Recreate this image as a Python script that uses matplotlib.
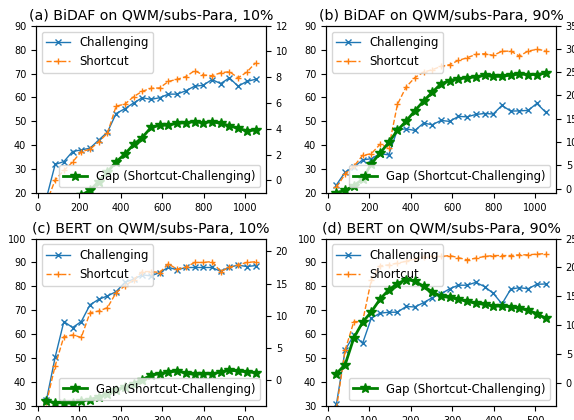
import numpy as np
import matplotlib
matplotlib.use('Agg')
import matplotlib.pyplot as plt

bidaf_steps = [42, 84, 126, 168, 210, 252, 294, 336, 378, 420, 462, 504, 546,
               588, 630, 672, 714, 756, 798, 840, 882, 924, 966, 1008, 1050]
bert_steps = [21, 42, 63, 84, 105, 126, 147, 168, 189, 210, 231, 252, 273,
              294, 315, 336, 357, 378, 399, 420, 441, 462, 483, 504, 525]

# (a) BiDAF 10%
a_chal = [18.0, 32.0, 33.2, 37.4, 38.1, 38.8, 42.2, 45.5, 53.3, 55.3, 57.7, 59.9, 59.2,
          59.9, 61.4, 61.4, 62.8, 64.7, 65.1, 67.5, 65.8, 68.2, 64.7, 66.7, 67.6]
a_short = [16.0, 25.5, 29.5, 33.0, 37.4, 38.3, 41.5, 45.0, 56.4, 57.2, 60.3, 62.6, 63.8,
           64.0, 66.7, 67.6, 68.7, 71.2, 69.4, 69.1, 70.3, 70.8, 68.2, 70.6, 74.5]
a_gap = [-4.0, -3.2, -2.5, -1.8, -1.15, -0.78, -0.1, 0.65, 1.43, 2.03, 2.78, 3.32, 4.10,
         4.26, 4.29, 4.42, 4.47, 4.55, 4.47, 4.55, 4.42, 4.23, 4.03, 3.84, 3.90]

# (b) BiDAF 90%
b_chal = [23.5, 28.8, 30.9, 33.9, 34.4, 36.5, 36.0, 46.5, 46.9, 46.2, 49.3, 48.6, 50.4,
          50.0, 52.1, 51.9, 52.9, 53.3, 53.1, 56.7, 54.3, 54.4, 54.6, 57.5, 53.9]
b_short = [22.5, 28.0, 31.2, 35.8, 36.5, 40.4, 39.0, 57.1, 64.4, 68.3, 70.6, 71.6, 73.0,
           73.7, 75.5, 76.6, 78.0, 78.3, 77.6, 79.3, 79.4, 77.3, 79.4, 80.1, 79.6]
b_gap = [-0.9, -0.4, 0.6, 2.0, 5.3, 7.6, 9.9, 12.5, 14.5, 16.7, 18.8, 20.7, 22.5,
         23.2, 23.6, 23.8, 24.0, 24.3, 24.1, 24.1, 24.4, 24.6, 24.5, 24.5, 24.8]

# (c) BERT 10%
c_chal = [32.5, 50.4, 65.3, 62.8, 65.3, 72.3, 74.6, 76.0, 77.8, 81.7, 83.0, 84.8, 84.4,
          85.8, 88.0, 86.9, 87.9, 87.9, 87.9, 87.9, 86.3, 88.0, 88.9, 88.3, 88.7]
c_short = [31.5, 46.8, 59.0, 59.7, 58.7, 69.0, 69.7, 71.1, 77.4, 80.2, 82.7, 86.2, 86.2,
           85.8, 89.4, 87.2, 88.0, 90.0, 90.0, 90.4, 86.2, 88.0, 89.0, 90.0, 90.3]
c_gap = [-3.2, -3.5, -3.5, -3.6, -3.2, -3.0, -2.6, -2.07, -1.55, -1.03, -0.52, 0.1, 0.78,
         1.03, 1.24, 1.45, 1.1, 0.9, 1.03, 0.95, 1.29, 1.55, 1.45, 1.29, 1.19]

# (d) BERT 90%
d_chal = [30.8, 53.4, 59.7, 56.2, 66.7, 68.8, 69.2, 69.2, 71.6, 71.4, 73.2, 75.3, 76.9,
          79.0, 80.5, 80.5, 81.7, 79.9, 77.1, 72.7, 78.8, 79.5, 79.0, 80.9, 81.0]
d_short = [29.0, 53.4, 65.3, 65.3, 82.7, 88.6, 89.0, 89.7, 90.5, 91.5, 92.2, 92.6, 92.5,
           92.9, 92.0, 91.1, 91.8, 92.5, 92.9, 92.9, 92.9, 93.2, 93.2, 93.5, 93.7]
d_gap = [1.62, 3.18, 7.81, 10.5, 12.3, 14.5, 16.1, 17.2, 17.9, 17.65, 16.7, 15.8, 15.0,
         14.8, 14.5, 14.1, 13.8, 13.6, 13.3, 13.3, 13.2, 12.9, 12.6, 12.0, 11.2]

titles = ['(a) BiDAF on QWM/subs-Para, 10%', '(b) BiDAF on QWM/subs-Para, 90%',
          '(c) BERT on QWM/subs-Para, 10%', '(d) BERT on QWM/subs-Para, 90%']

panels = [
    (bidaf_steps, a_chal, a_short, a_gap, (20, 90), (-1, 12), [0, 2, 4, 6, 8, 10, 12], [0, 200, 400, 600, 800, 1000]),
    (bidaf_steps, b_chal, b_short, b_gap, (20, 90), (-1, 35), [0, 5, 10, 15, 20, 25, 30, 35], [0, 200, 400, 600, 800, 1000]),
    (bert_steps, c_chal, c_short, c_gap, (30, 100), (-4, 22), [0, 5, 10, 15, 20], [0, 100, 200, 300, 400, 500]),
    (bert_steps, d_chal, d_short, d_gap, (30, 100), (-4, 25), [0, 5, 10, 15, 20, 25], [0, 100, 200, 300, 400, 500]),
]

fig, axes = plt.subplots(2, 2, figsize=(5.74, 4.2), dpi=100)
fig.subplots_adjust(left=0.0627, right=0.9686, top=0.9388, bottom=0.0333,
                    wspace=0.261, hspace=0.271)

for ax, title, (steps, chal, short, gap, ylim, ylim2, rticks, xticks) in zip(axes.flat, titles, panels):
    ax.plot(steps, chal, '-x', color='C0', lw=1, ms=4.5, label='Challenging')
    ax.plot(steps, short, '--+', color='C1', lw=1, ms=5, label='Shortcut')
    ax.set_ylim(*ylim)
    ax.set_xticks(xticks)
    ax.tick_params(labelsize=7)
    ax.legend(loc='upper left', fontsize=8.4)
    ax.set_title(title, fontsize=10.2, pad=4)

    # gap on its own right-hand axis
    ax2 = ax.twinx()
    ax2.plot(steps, gap, '-*', color='green', lw=2, ms=7, label='Gap (Shortcut-Challenging)')
    ax2.set_ylim(*ylim2)
    ax2.set_yticks(rticks)
    ax2.tick_params(labelsize=7)
    ax2.legend(loc='lower right', fontsize=8.4)

fig.savefig('out.png', dpi=100)
